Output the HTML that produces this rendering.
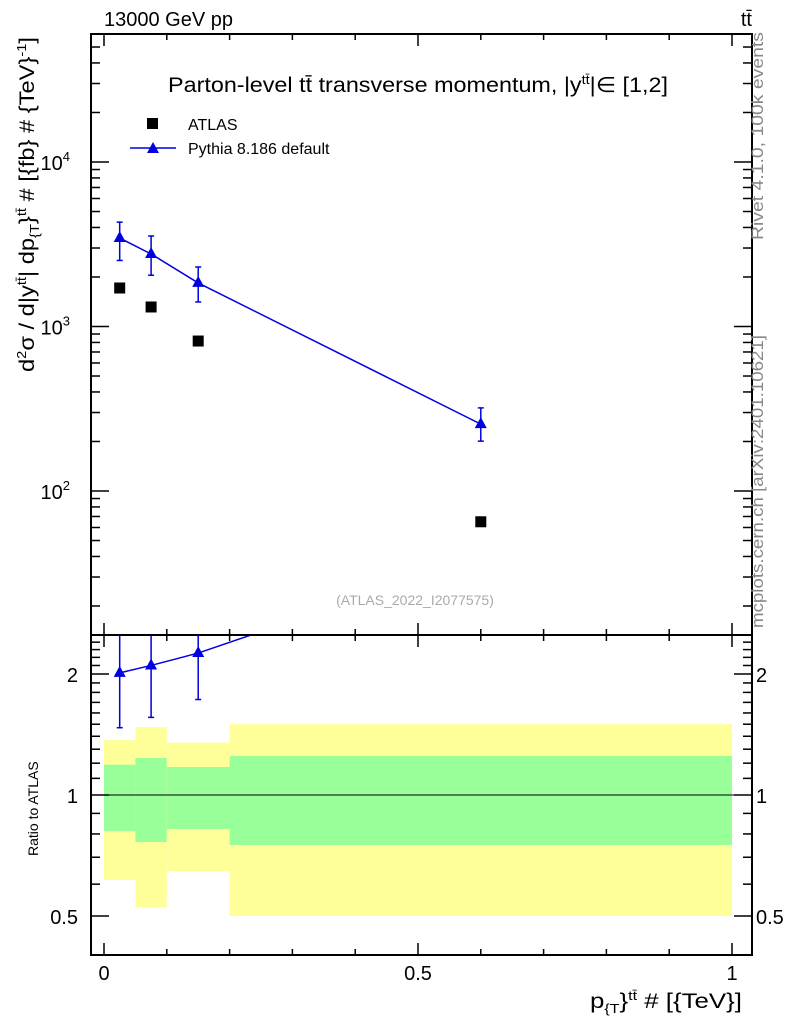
<!DOCTYPE html>
<html><head><meta charset="utf-8"><style>
body{margin:0;background:#fff}
svg{display:block;font-family:"Liberation Sans","DejaVu Sans",sans-serif}
</style></head><body>
<svg id="c" width="786" height="1024" viewBox="0 0 786 1024">
<rect x="0" y="0" width="786" height="1024" fill="#fff"/>
<g id="ratioBands"></g>
<g id="marks"></g>
<g id="axes"></g>
<text x="104" y="26" font-size="20">13000 GeV pp</text>
<text x="752" y="26" font-size="20" text-anchor="end">tt̄</text>
<text x="168" y="92" font-size="21" textLength="500" lengthAdjust="spacingAndGlyphs">Parton-level tt̄ transverse momentum, |y<tspan font-size="13" dy="-8">tt̄</tspan><tspan dy="8">|∈ [1,2]</tspan></text>
<rect x="147" y="118" width="11" height="11" fill="#000"/>
<text x="188" y="130" font-size="16">ATLAS</text>
<line x1="130" y1="148" x2="176" y2="148" stroke="#0000e0" stroke-width="1.5"/>
<polygon points="153,142 147,153 159,153" fill="#0000e0"/>
<text x="188" y="154" font-size="16">Pythia 8.186 default</text>
<text x="415" y="605" font-size="14" fill="#aaa" text-anchor="middle">(ATLAS_2022_I2077575)</text>
<text transform="translate(763,240) rotate(-90)" font-size="17" fill="#888" textLength="208" lengthAdjust="spacingAndGlyphs">Rivet 4.1.0,  100k events</text>
<text transform="translate(763,628) rotate(-90)" font-size="17" fill="#888" textLength="293" lengthAdjust="spacingAndGlyphs">mcplots.cern.ch [arXiv:2401.10621]</text>
<text transform="translate(34,372) rotate(-90)" font-size="21" textLength="335" lengthAdjust="spacingAndGlyphs">d<tspan font-size="13" dy="-8">2</tspan><tspan dy="8">σ / d|y</tspan><tspan font-size="13" dy="-8">tt̄</tspan><tspan dy="8">| dp</tspan><tspan font-size="13" dy="5">{T</tspan><tspan dy="-5">}</tspan><tspan font-size="13" dy="-8">tt̄</tspan><tspan dy="8"> # [{fb} # {TeV}</tspan><tspan font-size="13" dy="-8">-1</tspan><tspan dy="8">]</tspan></text>
<text transform="translate(38,856) rotate(-90)" font-size="14">Ratio to ATLAS</text>
<text x="742" y="1008" font-size="21" text-anchor="end" textLength="152" lengthAdjust="spacingAndGlyphs">p<tspan font-size="13" dy="5">{T</tspan><tspan dy="-5">}</tspan><tspan font-size="13" dy="-8">tt̄</tspan><tspan dy="8"> # [{TeV}]</tspan></text>
</svg>
<script>
const xCenters=[0.025,0.075,0.15,0.6];
const binEdges=[0,0.05,0.1,0.2,1];
const atlasVals=[1714,1314,816,65];
const pythiaVals=[3450,2760,1840,255];
const pythiaUp=[4310,3550,2300,320];
const pythiaDown=[2520,2050,1410,201];
const yellowHi=[1.37,1.476,1.35,1.50];
const yellowLo=[0.615,0.526,0.647,0.5];
const greenHi=[1.19,1.236,1.174,1.25];
const greenLo=[0.814,0.764,0.823,0.751];
const xTickLabels=["0","0.5","1"];
const yTickLabels=["10","10","10"];
const ratioTickLabels=["0.5","1","2"];

const NS="http://www.w3.org/2000/svg";
const L=91,R=752,T=34,MB=635,RB=955;
const X=v=>104+v*628;
const Y=v=>162-(Math.log10(v)-4)*164.5;
const YR=v=>795-Math.log10(v)/0.30103*121;
function mk(tag,a,p){const e=document.createElementNS(NS,tag);for(const k in a)e.setAttribute(k,a[k]);(p||document.getElementById('marks')).appendChild(e);return e;}
const bands=document.getElementById('ratioBands'),axes=document.getElementById('axes'),marks=document.getElementById('marks');
const cl=v=>Math.max(MB,Math.min(RB,v));
for(let i=0;i<xCenters.length;i++){
 let e=mk('rect',{x:X(binEdges[i]),y:cl(YR(yellowHi[i])),width:X(binEdges[i+1])-X(binEdges[i]),height:cl(YR(yellowLo[i]))-cl(YR(yellowHi[i])),fill:'#ffff99'},bands);
 
 
 e=mk('rect',{x:X(binEdges[i]),y:YR(greenHi[i]),width:X(binEdges[i+1])-X(binEdges[i]),height:YR(greenLo[i])-YR(greenHi[i]),fill:'#99ff99'},bands);
 
 
}
let e=mk('line',{x1:L,x2:R,y1:YR(1),y2:YR(1),stroke:'#000','stroke-width':1},bands);


let pts=xCenters.map((x,i)=>X(x)+','+Y(pythiaVals[i])).join(' ');
e=mk('polyline',{points:pts,fill:'none',stroke:'#0000e0','stroke-width':1.5});


for(let i=0;i<xCenters.length;i++){
 const x=X(xCenters[i]);
 e=mk('rect',{x:x-5.5,y:Y(atlasVals[i])-5.5,width:11,height:11,fill:'#000'});
 
 
 e=mk('line',{x1:x,x2:x,y1:Y(pythiaUp[i]),y2:Y(pythiaDown[i]),stroke:'#0000e0','stroke-width':1.5});
 
 
 [pythiaUp[i],pythiaDown[i]].forEach(v=>{const c=mk('line',{x1:x-3,x2:x+3,y1:Y(v),y2:Y(v),stroke:'#0000e0','stroke-width':1.5});});
 const y=Y(pythiaVals[i]);
 e=mk('polygon',{points:`${x},${y-7} ${x-6},${y+4} ${x+6},${y+4}`,fill:'#0000e0'});
 
 
}
const cp=mk('clipPath',{id:'rc'},document.getElementById('c'));
mk('rect',{x:L,y:MB,width:R-L,height:RB-MB},cp);
const rg=mk('g',{'clip-path':'url(#rc)'});


pts=xCenters.map((x,i)=>X(x)+','+YR(pythiaVals[i]/atlasVals[i])).join(' ');
e=mk('polyline',{points:pts,fill:'none',stroke:'#0000e0','stroke-width':1.5},rg);


for(let i=0;i<xCenters.length;i++){
 const x=X(xCenters[i]),y=YR(pythiaVals[i]/atlasVals[i]);
 const yu=YR(pythiaUp[i]/atlasVals[i]),yd=YR(pythiaDown[i]/atlasVals[i]);
 e=mk('line',{x1:x,x2:x,y1:yu,y2:yd,stroke:'#0000e0','stroke-width':1.5},rg);
 
 
 e=mk('line',{x1:x-3,x2:x+3,y1:yd,y2:yd,stroke:'#0000e0','stroke-width':1.5},rg);
 
 
 e=mk('polygon',{points:`${x},${y-7} ${x-6},${y+4} ${x+6},${y+4}`,fill:'#0000e0'},rg);
 
 
}
[[T,MB],[MB,RB]].forEach(([a,b],k)=>{e=mk('rect',{x:L,y:a,width:R-L,height:b-a,fill:'none',stroke:'#000','stroke-width':2},axes);});
function tk(x1,y1,x2,y2){const t=mk('line',{x1,y1,x2,y2,stroke:'#000','stroke-width':1.5},axes);}
function txt(x,y,s,anchor,size){const t=mk('text',{x,y,'font-size':size||20,'text-anchor':anchor||'middle'},axes);t.textContent=s;return t;}
for(let v=0;v<=1.0001;v+=0.1){const maj=Math.abs(v*2-Math.round(v*2))<1e-6;const len=maj?12:6;
 [[T,T+len],[MB,MB-len],[MB,MB+len],[RB,RB-len]].forEach(([a,b])=>tk(X(v),a,X(v),b));}
xTickLabels.forEach((s,i)=>txt(X(i*0.5),980,s));
for(let d=1;d<=4;d++)for(let m=1;m<10;m++){const v=m*Math.pow(10,d);const y=Y(v);if(y<T||y>MB)continue;const len=m==1?18:9;tk(L,y,L+len,y);tk(R,y,R-len,y);}
yTickLabels.forEach((s,i)=>{const t=txt(80,Y(Math.pow(10,i+2))+8,s,'end');const sp=document.createElementNS(NS,'tspan');sp.setAttribute('font-size','13');sp.setAttribute('dy','-9');sp.textContent=String(i+2);t.appendChild(sp);t.setAttribute('x',70);});
const rt=[0.4,0.5,0.6,0.7,0.8,0.9,1,1.1,1.2,1.3,1.4,1.5,1.6,1.7,1.8,1.9,2,2.1,2.2,2.3,2.4,2.5];
rt.forEach(v=>{const y=YR(v);if(y<MB||y>RB)return;const maj=[0.5,1,2].some(m=>Math.abs(m-v)<1e-6);const len=maj?18:9;tk(L,y,L+len,y);tk(R,y,R-len,y);});
ratioTickLabels.forEach(s=>{const v=parseFloat(s);txt(78,YR(v)+8,s,'end');txt(756,YR(v)+8,s,'start');});
</script>
</body></html>
